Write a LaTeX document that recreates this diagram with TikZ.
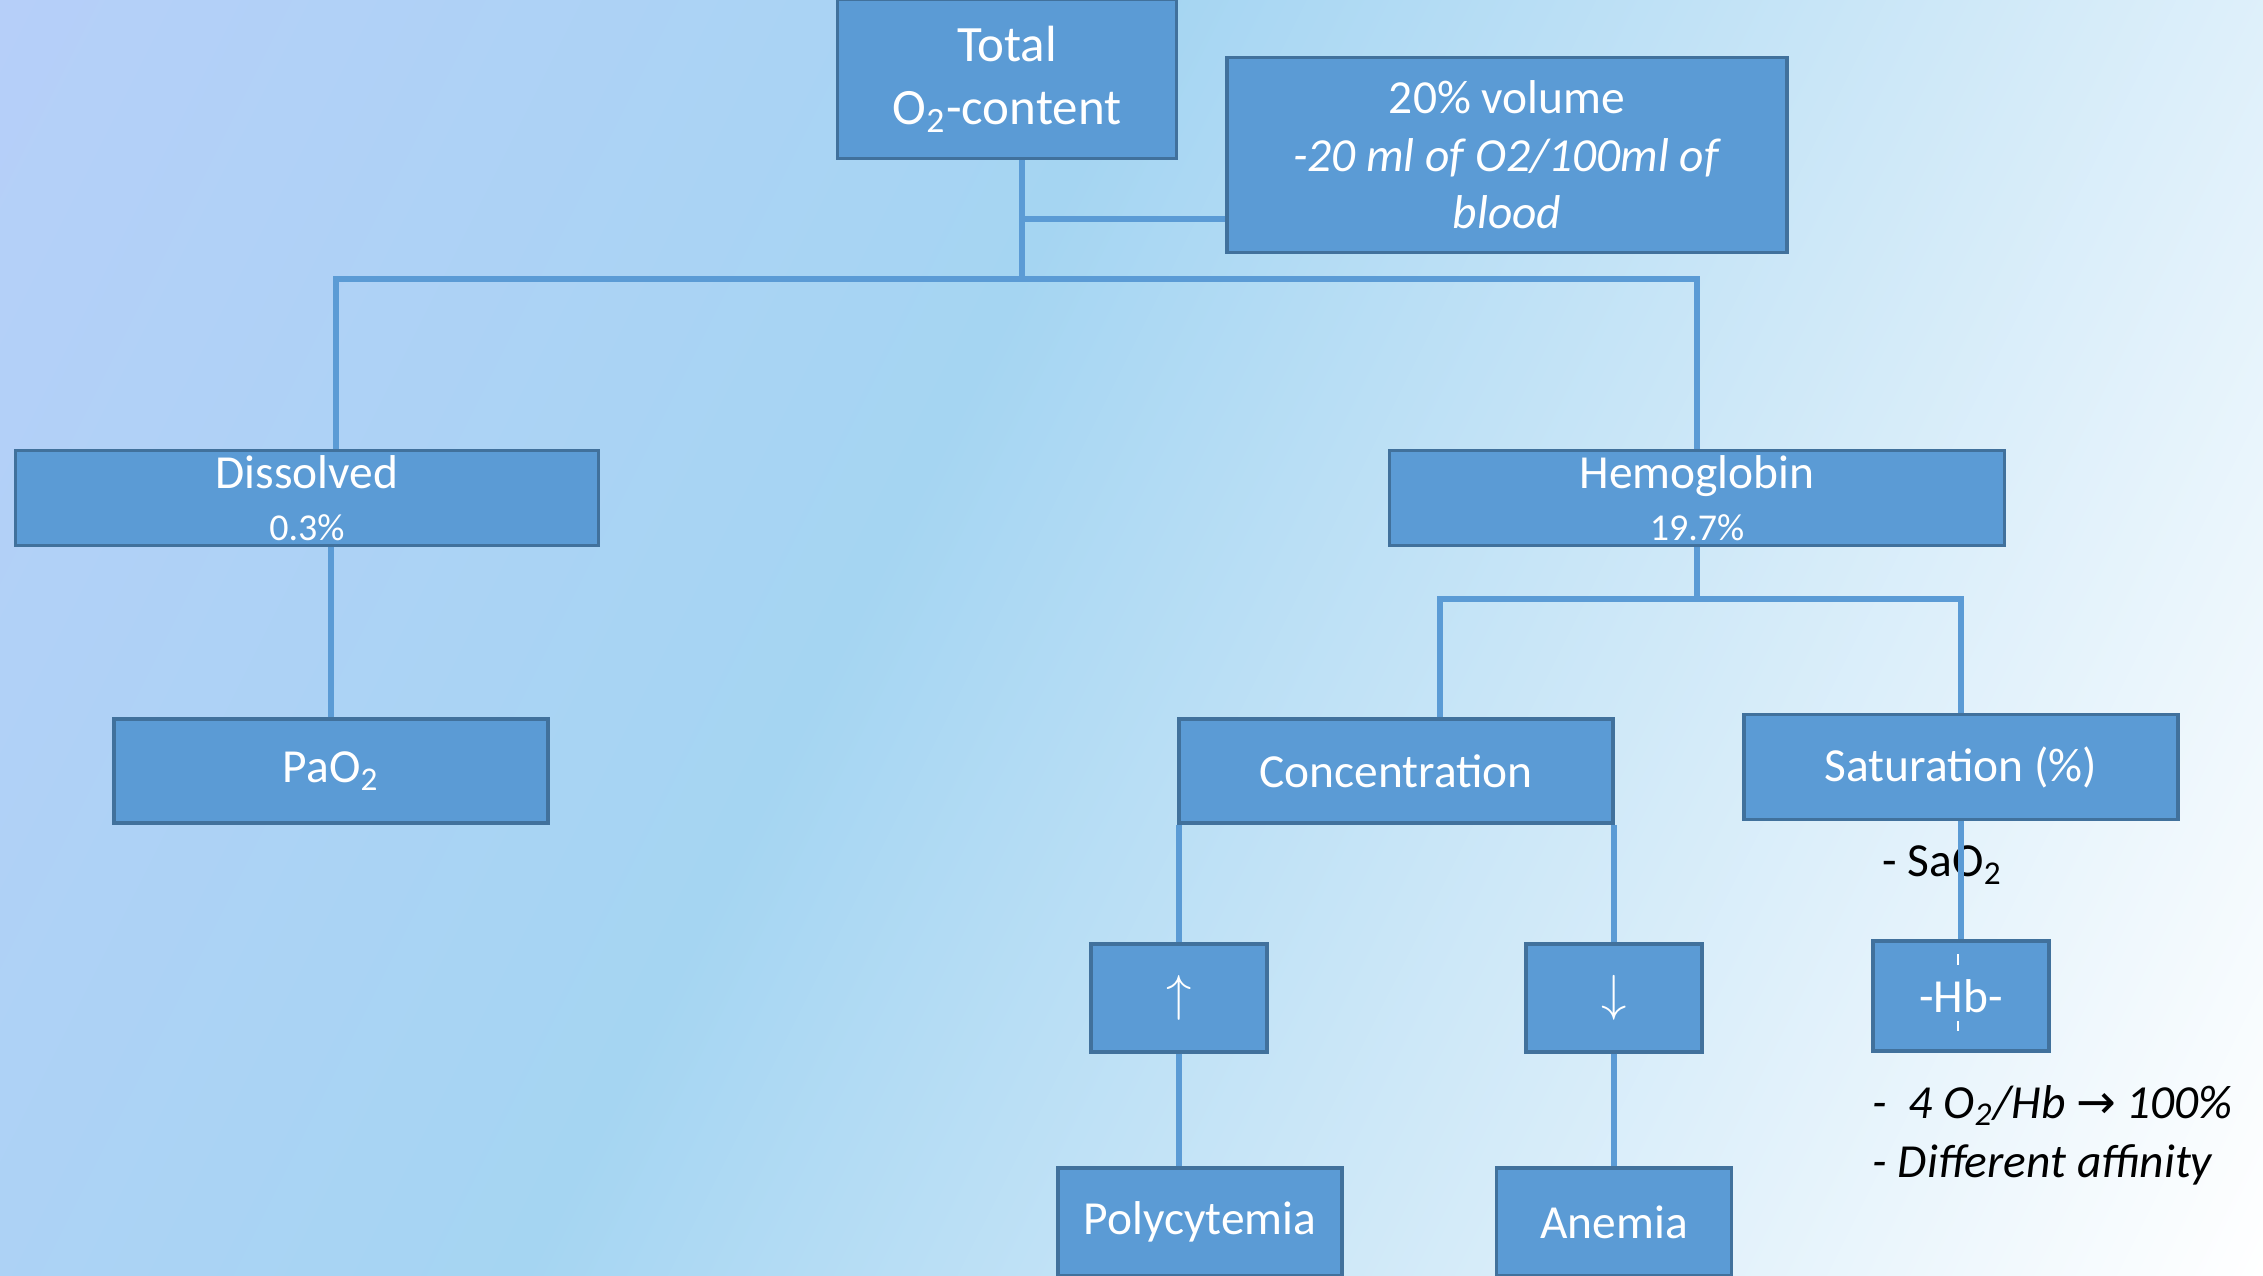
\documentclass[tikz,border=0pt]{standalone}
\usepackage{fontspec}
\setmainfont{Carlito}
\newfontfamily\symfont{DejaVu Sans}
\definecolor{boxfill}{HTML}{5B9BD5}
\definecolor{boxline}{HTML}{41719C}
\definecolor{bgA}{HTML}{B6CFF9}
\definecolor{bgB}{HTML}{A5D5F2}
\definecolor{bgC}{HTML}{FFFFFF}
\pgfdeclareverticalshading{bgshade}{100bp}{color(0bp)=(bgC); color(25bp)=(bgC); color(55bp)=(bgB); color(75bp)=(bgA); color(100bp)=(bgA)}
\tikzset{
  box/.style={draw=boxline, line width=0.9pt, fill=boxfill, text=white, inner sep=0pt, align=center, font=\fontsize{13.5}{16.4}\selectfont},
  conn/.style={draw=boxfill, line width=1.6pt},
  note/.style={inner sep=0pt, align=left, font=\fontsize{13.5}{16.8}\selectfont}
}
\begin{document}
\begin{tikzpicture}
    \useasboundingbox (0,0) rectangle (22.63,-12.76);
    \begin{scope}
        \clip (0,0) rectangle (22.63,-12.76);
        \shade[shading=bgshade, shading angle=63.4] (11.315,-6.38) ++(-13,-13) rectangle ++(26,26);
    \end{scope}

    \node[box, minimum width=3.39cm, minimum height=1.59cm, font=\fontsize{14.5}{18}\selectfont] (total) at (10.07,-0.79) {Total\\O\textsubscript{2}-content};
    \node[box, minimum width=5.6cm, minimum height=1.95cm] (vol) at (15.07,-1.55) {20\% volume\\\textit{-20 ml of O2/100ml of}\\\textit{blood}};
    \node[box, minimum width=5.83cm, minimum height=0.95cm, font=\fontsize{13.5}{14.7}\selectfont] (dis) at (3.07,-4.98) {Dissolved\\{\fontsize{10.8}{13}\selectfont 0.3\%}};
    \node[box, minimum width=6.15cm, minimum height=0.95cm, font=\fontsize{13.5}{14.7}\selectfont] (hem) at (16.97,-4.98) {Hemoglobin\\{\fontsize{10.8}{13}\selectfont 19.7\%}};
    \node[box, minimum width=4.34cm, minimum height=1.04cm] (pao) at (3.31,-7.71) {PaO\textsubscript{2}};
    \node[box, minimum width=4.34cm, minimum height=1.04cm] (conc) at (13.96,-7.71) {Concentration};
    \node[box, minimum width=4.34cm, minimum height=1.05cm] (sat) at (19.61,-7.67) {Saturation (\%)};
    \node[box, minimum width=1.76cm, minimum height=1.08cm, font=\fontsize{15}{18}\selectfont] (up) at (11.79,-9.98) {$\uparrow$};
    \node[box, minimum width=1.76cm, minimum height=1.08cm, font=\fontsize{15}{18}\selectfont] (down) at (16.14,-9.98) {$\downarrow$};
    \node[box, minimum width=1.76cm, minimum height=1.1cm] (hb) at (19.61,-9.96) {-Hb-};
    \node[box, minimum width=2.84cm, minimum height=1.08cm] (poly) at (12.0,-12.22) {Polycytemia};
    \node[box, minimum width=2.35cm, minimum height=1.08cm] (anem) at (16.14,-12.22) {Anemia};

    \node[note, anchor=west] (sao) at (18.82,-8.65) {- SaO\textsubscript{2}};
    \node[note, anchor=west, font=\fontsize{13.5}{16.8}\selectfont\itshape] (aff) at (18.72,-11.35) {-\ \ 4 O\textsubscript{2}/Hb {\symfont\upshape →} 100\%\\- Different affinity};

    \draw[white, line width=0.8pt] (hb.center) ++(-0.03,0.31) -- ++(0,0.11);
    \draw[white, line width=0.8pt] (hb.center) ++(-0.03,-0.25) -- ++(0,-0.1);

    \coordinate (jt) at (10.22,-2.19);
    \coordinate (busL) at (3.36,-2.79);
    \coordinate (busR) at (16.97,-2.79);
    \coordinate (hj) at (16.97,-5.99);
    \coordinate (cl) at (14.40,-5.99);
    \draw[conn] (jt |- total.south) -- (jt |- busL);
    \draw[conn] (jt) -- (jt -| vol.west);
    \draw[conn] (busL |- dis.north) -- (busL) -- (busR) -- (hem.north);
    \draw[conn] (pao.north) -- (pao.north |- dis.south);
    \draw[conn] (hem.south) -- (hj);
    \draw[conn] (cl |- conc.north) -- (cl) -- (hj -| sat.north) -- (sat.north);
    \draw[conn] (up.north) -- (up.north |- conc.south);
    \draw[conn] (down.north) -- (down.north |- conc.south);
    \draw[conn] (up.south) -- (up.south |- poly.north);
    \draw[conn] (down.south) -- (down.south |- anem.north);
    \draw[conn] (sat.south) -- (hb.north);
\end{tikzpicture}
\end{document}
